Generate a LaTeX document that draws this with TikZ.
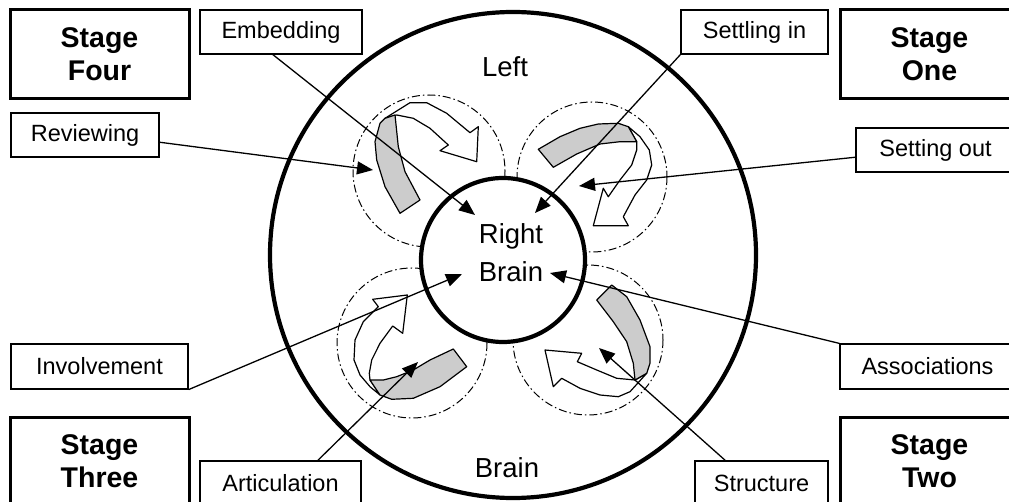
\documentclass[tikz,border=0pt]{standalone}
\usepackage{fontspec}
\setmainfont{Liberation Sans}
\usetikzlibrary{arrows.meta,calc}
\begin{document}
\begin{tikzpicture}[x=1pt,y=-1pt,
  stagebox/.style={draw, line width=3pt, minimum width=179pt, minimum height=89pt,
    align=center, inner sep=0pt, font=\fontsize{28.5}{33}\selectfont\bfseries},
  lbl/.style={draw, line width=1.2pt, minimum height=44pt, inner sep=0pt,
    font=\fontsize{23.5}{28}\selectfont},
  big/.style={font=\fontsize{27.5}{38}\selectfont, align=center, inner sep=0pt},
  ring/.style={line width=4.2pt},
  zone/.style={line width=1pt, dash pattern=on 8pt off 3pt on 1.5pt off 3pt},
  band/.style={draw, fill=black!20, line width=1.2pt, line join=round},
  turn/.style={draw, fill=white, line width=1.2pt, line join=round},
  pointer/.style={line width=1.3pt, -{Triangle[length=16pt,width=13pt]}},
]
\useasboundingbox (0,0) rectangle (1009,502);
\clip (0,0) rectangle (1009,502);

% outer "Left Brain" ring
\draw[ring] (513,255) circle[radius=243];

% the four stage zones
\draw[zone] (429,171) circle[radius=76];
\draw[zone] (592,177) circle[radius=75];
\draw[zone] (412,343) circle[radius=75];
\draw[zone] (588,340) circle[radius=75];

% top-left: band and turning arrow
\draw[turn] (385,118.3) -- (410,102.7) -- (426.7,102.7) -- (446.7,113.3) -- (470,132.7)
  -- (478.3,126.7) -- (476.7,161.7) -- (440,150.7) -- (448.3,145) -- (430,128.3)
  -- (413.3,118.3) -- (396.7,115) -- cycle;
\draw[band] (385,118.3) -- (395,115) -- (398.3,146.7) -- (405,171.7) -- (420,200)
  -- (400,213.3) -- (385,186.7) -- (376.7,160) -- (375,141.7) -- (380,123.3) -- cycle;

% top-right
\draw[turn] (628.3,126.7) -- (640,136.7) -- (649.3,150) -- (651.7,165) -- (646.7,180)
  -- (635,195) -- (623.3,216.7) -- (628.3,225.7) -- (593.3,225.7) -- (603.3,188.3)
  -- (608.3,196.7) -- (620,180) -- (631.7,165) -- (636.7,150) -- (636.7,141.7) -- cycle;
\draw[band] (538.3,149.3) -- (560,136.7) -- (580,128.3) -- (598.3,124) -- (618.3,123.3)
  -- (628.3,126.7) -- (636.7,141.7) -- (620,141.7) -- (600,144) -- (576.7,154)
  -- (553.3,167.3) -- cycle;

% bottom-left
\draw[turn] (370,380) -- (369.3,373.3) -- (371.7,360) -- (380,343.3) -- (392.7,326)
  -- (402.7,333.3) -- (407.3,295) -- (372.7,299.3) -- (378.3,306.7) -- (363.3,321.7)
  -- (355,340) -- (354,360) -- (360,375) -- (370,386.7) -- (380,395) -- cycle;
\draw[band] (370,380) -- (383.3,380) -- (396.7,376.7) -- (413.3,370) -- (430,360)
  -- (453.3,349) -- (466.7,366.7) -- (440,386.7) -- (413.3,398.3) -- (391.7,399.3)
  -- (380,395) -- cycle;

% bottom-right
\draw[turn] (646.7,373.3) -- (630,391.7) -- (618.3,396.7) -- (600,395) -- (580,388.3)
  -- (561.7,378.3) -- (553.3,386.7) -- (545,350) -- (581.7,353.3) -- (577.3,361.7)
  -- (596.7,370) -- (616.7,378.3) -- (635,380) -- cycle;
\draw[band] (596.7,300) -- (611.7,285) -- (626.7,296.7) -- (640,320) -- (650,346.7)
  -- (650,363.3) -- (646.7,373.3) -- (635,380) -- (633.3,363.3) -- (626.7,341.7)
  -- (613.3,321.7) -- cycle;

% inner "Right Brain" circle
\draw[ring, fill=white] (503,260) circle[radius=82];

\node[big] (left)   at (505,67)  {Left};
\node[big] (right)  at (511,253) {Right\\Brain};
\node[big] (brain)  at (507,468) {Brain};

% stage boxes
\node[stagebox] (four)  at (99.5,54.5)  {Stage\\Four};
\node[stagebox] (one)   at (929.5,54.5) {Stage\\One};
\node[stagebox] (three) at (99.5,461.5) {Stage\\Three};
\node[stagebox] (two)   at (929.5,461.5){Stage\\Two};

% labels
\node[lbl, minimum width=162pt] (emb)    at (281,32)     {Embedding};
\node[lbl, minimum width=147pt] (settl)  at (754.5,32)   {Settling in};
\node[lbl, minimum width=148pt] (rev)    at (85,135)     {Reviewing};
\node[lbl, minimum width=159pt] (setout) at (935.5,150)  {Setting out};
\node[lbl, minimum width=177pt, minimum height=45pt] (inv)   at (99.5,366.5)  {Involvement};
\node[lbl, minimum width=175pt, minimum height=45pt] (assoc) at (927.5,366.5) {Associations};
\node[lbl, minimum width=161pt] (artic)  at (280.5,483)  {Articulation};
\node[lbl, minimum width=133pt] (struct) at (761.5,483)  {Structure};

% arrow targets
\coordinate (tEmb) at (475,215);
\coordinate (tSet) at (535,213);
\coordinate (tRev) at (373,170);
\coordinate (tOut) at (579,186);
\coordinate (tInv) at (462,274);
\coordinate (tAsc) at (550,273);
\coordinate (tArt) at (418,362);
\coordinate (tStr) at (599,348);

% connectors
\draw[pointer] ($(emb.south west)!0.45!(emb.south east)$) -- (tEmb);
\draw[pointer] (settl.south west) -- (tSet);
\draw[pointer] ($(rev.north east)!0.66!(rev.south east)$) -- (tRev);
\draw[pointer] ($(setout.north west)!0.66!(setout.south west)$) -- (tOut);
\draw[pointer] (inv.south east) -- (tInv);
\draw[pointer] (assoc.north west) -- (tAsc);
\draw[pointer] ($(artic.north west)!0.73!(artic.north east)$) -- (tArt);
\draw[pointer] ($(struct.north west)!0.23!(struct.north east)$) -- (tStr);
\end{tikzpicture}
\end{document}
